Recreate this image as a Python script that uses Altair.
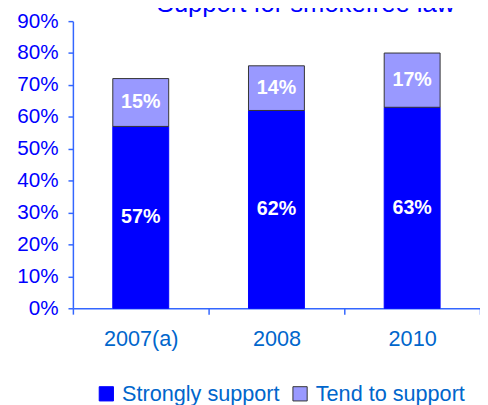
import altair as alt
import pandas as pd

years = ["2007(a)", "2008", "2010"]
strongly = [0.57, 0.62, 0.63]
tend = [0.15, 0.14, 0.17]
series_names = ["Strongly support", "Tend to support"]
fill_colors = ["#0000FF", "#9999FF"]
stroke_colors = ["#0000FF", "#333333"]
y_ticks = [0, 0.1, 0.2, 0.3, 0.4, 0.5, 0.6, 0.7, 0.8, 0.9]
title_text = "Support for smokefree law"

rows = []
for i, yr in enumerate(years):
    rows.append({"year": yr, "series": series_names[0], "value": strongly[i], "order": 0})
    rows.append({"year": yr, "series": series_names[1], "value": tend[i], "order": 1})
df = pd.DataFrame(rows)

FONT = "Liberation Sans"
AXIS_BLUE = "#3366FF"
LABEL_BLUE = "#0066CC"

legend_params = dict(
    title=None,
    orient="none",
    direction="horizontal",
    legendX=23,
    legendY=368,
    symbolType="square",
    symbolSize=210,
    symbolStrokeWidth=1,
    labelFont=FONT,
    labelFontSize=22,
    labelColor=LABEL_BLUE,
    labelOffset=5,
    labelLimit=0,
    columnPadding=9,
)

y_axis = alt.Axis(
    title=None,
    values=y_ticks,
    tickCount=10,
    format=".0%",
    grid=False,
    labelOverlap=False,
    labelBound=False,
    labelFlush=False,
    labelFont=FONT,
    labelFontSize=21,
    labelColor="#0000FF",
    labelPadding=10,
    tickSize=5,
    tickColor=AXIS_BLUE,
    domainColor=AXIS_BLUE,
    domainWidth=1.5,
    tickWidth=1.5,
)
y_scale = alt.Scale(domain=[0, 0.9], nice=False)

x_enc = alt.X(
    "year:N",
    sort=years,
    scale=alt.Scale(paddingInner=0, paddingOuter=0),
    axis=alt.Axis(
        title=None,
        labelAngle=0,
        labelFont=FONT,
        labelFontSize=22,
        labelColor=LABEL_BLUE,
        labelPadding=15,
        tickBand="extent",
        tickSize=6,
        tickColor=AXIS_BLUE,
        domainColor=AXIS_BLUE,
        domainWidth=1.5,
        tickWidth=1.5,
    ),
)

bars = alt.Chart(df).mark_bar(
    width=alt.RelativeBandSize(0.412), strokeWidth=1
).encode(
    x=x_enc,
    y=alt.Y("value:Q", stack="zero", scale=y_scale, axis=y_axis),
    fill=alt.Fill(
        "series:N",
        scale=alt.Scale(domain=series_names, range=fill_colors),
        legend=alt.Legend(**legend_params),
    ),
    stroke=alt.Stroke(
        "series:N",
        scale=alt.Scale(domain=series_names, range=stroke_colors),
        legend=alt.Legend(**legend_params),
    ),
    order=alt.Order("order:Q"),
)

labels = alt.Chart(df).transform_stack(
    stack="value", groupby=["year"], as_=["v0", "v1"], sort=[alt.SortField("order")]
).transform_calculate(
    mid="(datum.v0 + datum.v1) / 2",
    lbl="format(datum.value, '.0%')",
).mark_text(
    font=FONT, fontSize=20, fontWeight="bold", color="white", baseline="middle"
).encode(
    x=x_enc,
    y=alt.Y("mid:Q", scale=y_scale, axis=y_axis),
    text="lbl:N",
)

chart = alt.layer(bars, labels).properties(
    width=414,
    height=292,
    title=alt.TitleParams(
        title_text,
        font=FONT,
        fontSize=26,
        fontWeight="normal",
        color="#0000FF",
        anchor="middle",
        dx=30,
        offset=-7,
    ),
    autosize=alt.AutoSizeParams(type="none"),
    padding={"left": 66, "top": 10, "right": 0, "bottom": 95},
).configure_view(stroke=None)

chart.save("out.html", embed_options={"renderer": "svg", "actions": False})
